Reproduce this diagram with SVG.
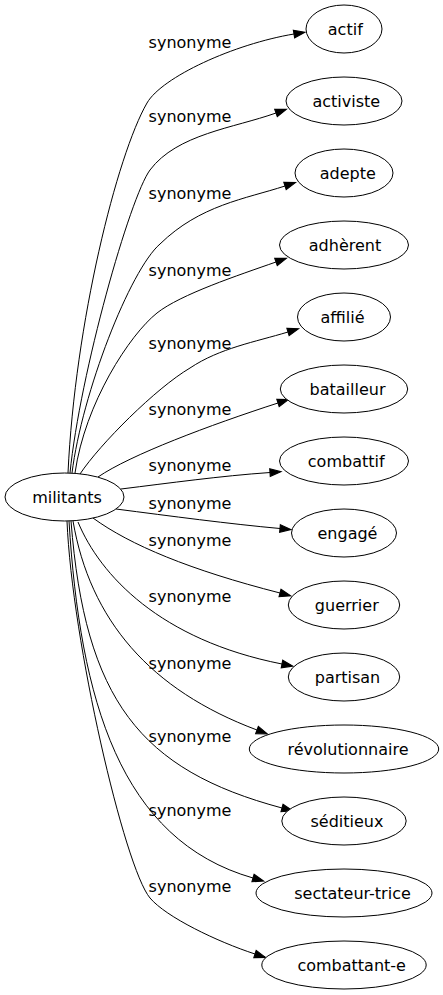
<svg xmlns="http://www.w3.org/2000/svg" width="443" height="995" viewBox="0 0 443 995">
<defs>
<style>
.node ellipse{fill:#fff;stroke:#000;stroke-width:1}
text{font-family:"DejaVu Sans","Liberation Sans",sans-serif;font-size:16px;fill:#000}
.node text{text-anchor:middle}
.lbl{text-anchor:middle}
.edges path{fill:none;stroke:#000;stroke-width:1;marker-end:url(#arr)}
</style>
<marker id="arr" markerUnits="userSpaceOnUse" markerWidth="11" markerHeight="8" viewBox="0 0 10 7" refX="0" refY="3.5" orient="auto" overflow="visible">
<path d="M0,0 L10,3.5 L0,7 z" fill="#000" stroke="#000" stroke-width="1"/>
</marker>
</defs>
<rect width="443" height="995" fill="#fff"/>
<g id="edges" class="edges">
<path d="M68,473 C75,323 117,155 147,103 C162,77 234,44 294,34"/>
<path d="M70,473 C80,373 130,197 150,170 C177,134 234,128 276,113"/>
<path d="M72,473 C82,393 130,270 160,244 C200,205 245,199 285,186"/>
<path d="M75,473 C85,403 129.7,334.7 157,313 C180.4,294.4 238.4,275.2 276,262"/>
<path d="M80,474 C100,444 155.6,388.4 190,368 C220,348 255,342 288,332"/>
<path d="M98,477 C130,455 210,425 278,403"/>
<path d="M121,489 C170,483 220,476 270,472.5"/>
<path d="M116,509 C170,516 230,524 280,528.5"/>
<path d="M93,518 C130,545 190,570 280,593"/>
<path d="M78,522 C100,575 160,640 282,664"/>
<path d="M73,521 C90,620 150,690 257,730"/>
<path d="M71,521 C85,700 140,770 282,808"/>
<path d="M69,521 C80,700 120,840 253,878"/>
<path d="M67,521 C72,641 124.4,867.2 150,898 C166,917 217,941.6 255,954"/>
</g>
<g id="labels">
<text class="lbl" x="190" y="48">synonyme</text>
<text class="lbl" x="190" y="122">synonyme</text>
<text class="lbl" x="190" y="199">synonyme</text>
<text class="lbl" x="190" y="276">synonyme</text>
<text class="lbl" x="190" y="349">synonyme</text>
<text class="lbl" x="190" y="415">synonyme</text>
<text class="lbl" x="190" y="471">synonyme</text>
<text class="lbl" x="190" y="509">synonyme</text>
<text class="lbl" x="190" y="546">synonyme</text>
<text class="lbl" x="190" y="602">synonyme</text>
<text class="lbl" x="190" y="669">synonyme</text>
<text class="lbl" x="190" y="742">synonyme</text>
<text class="lbl" x="190" y="816">synonyme</text>
<text class="lbl" x="190" y="892">synonyme</text>
</g>
<g id="militants" class="node"><ellipse cx="64.5" cy="497" rx="59.5" ry="24"/><text x="67" y="502.6">militants</text></g>
<g id="actif" class="node"><ellipse cx="344" cy="29" rx="38" ry="24"/><text x="345.3" y="34.6">actif</text></g>
<g id="activiste" class="node"><ellipse cx="344" cy="101" rx="58" ry="24"/><text x="346.3" y="106.6">activiste</text></g>
<g id="adepte" class="node"><ellipse cx="344" cy="173" rx="49" ry="24"/><text x="347.8" y="178.6">adepte</text></g>
<g id="adherent" class="node"><ellipse cx="344" cy="245" rx="64.5" ry="24"/><text x="345" y="250.6">adhèrent</text></g>
<g id="affilie" class="node"><ellipse cx="344" cy="317" rx="46.5" ry="24"/><text x="342.5" y="322.6">affilié</text></g>
<g id="batailleur" class="node"><ellipse cx="344" cy="389" rx="63.7" ry="24"/><text x="347.5" y="394.6">batailleur</text></g>
<g id="combattif" class="node"><ellipse cx="344" cy="461" rx="64.5" ry="24"/><text x="346.2" y="466.6">combattif</text></g>
<g id="engage" class="node"><ellipse cx="344" cy="533" rx="52.5" ry="24"/><text x="347.5" y="538.6">engagé</text></g>
<g id="guerrier" class="node"><ellipse cx="344" cy="605" rx="55.7" ry="24"/><text x="346.8" y="610.6">guerrier</text></g>
<g id="partisan" class="node"><ellipse cx="344" cy="677" rx="55.7" ry="24"/><text x="347.5" y="682.6">partisan</text></g>
<g id="revolutionnaire" class="node"><ellipse cx="344" cy="749" rx="94.7" ry="24"/><text x="348" y="754.6">révolutionnaire</text></g>
<g id="seditieux" class="node"><ellipse cx="344" cy="821" rx="62.2" ry="24"/><text x="347" y="826.6">séditieux</text></g>
<g id="sectateur-trice" class="node"><ellipse cx="344" cy="893" rx="88" ry="24"/><text x="352.5" y="898.6">sectateur-trice</text></g>
<g id="combattant-e" class="node"><ellipse cx="344" cy="965" rx="82.2" ry="24"/><text x="351.7" y="970.6">combattant-e</text></g>
</svg>
